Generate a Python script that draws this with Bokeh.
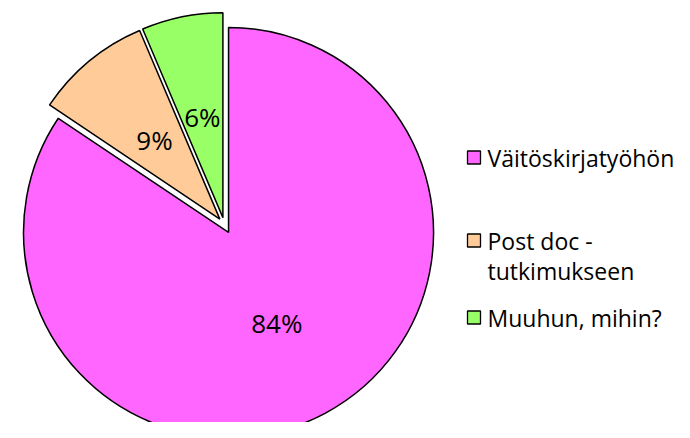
import math
from bokeh.plotting import figure
from bokeh.models import Range1d
from bokeh.core.properties import value
from bokeh.embed import file_html
from bokeh.resources import INLINE

# data
categories = ["Väitöskirjatyöhön", "Post doc -\ntutkimukseen", "Muuhun, mihin?"]
values = [84.4, 9.2, 6.4]
colors = ["#FF66FF", "#FFCC99", "#99FF66"]
explode = [9, 7, 7]

W, H = 674, 422
FONT = "Open Sans"
p = figure(width=W, height=H, output_backend="svg", toolbar_location=None,
           x_range=Range1d(0, W), y_range=Range1d(438 - H, 438),
           min_border=0)
p.axis.visible = False
p.grid.visible = False
p.outline_line_color = None
p.background_fill_color = "white"

cx, cy, r = 223.8, 214.0, 205.0
total = sum(values)
cum = 0.0
xs, ys, sa, ea, lx, ly, labels = [], [], [], [], [], [], []
for v, e in zip(values, explode):
    a_start = math.pi / 2 - 2 * math.pi * (cum + v) / total
    a_end = math.pi / 2 - 2 * math.pi * cum / total
    mid = (a_start + a_end) / 2
    x0 = cx + e * math.cos(mid)
    y0 = cy + e * math.sin(mid)
    xs.append(x0); ys.append(y0); sa.append(a_start); ea.append(a_end)
    lx.append(x0 + 0.5 * r * math.cos(mid))
    ly.append(y0 + 0.5 * r * math.sin(mid))
    labels.append(f"{round(v)}%")
    cum += v

p.wedge(x=xs, y=ys, radius=r, start_angle=sa, end_angle=ea, direction="anticlock",
        fill_color=colors, line_color="black", line_width=1.5)

p.text(x=lx, y=ly, text=labels, text_font=value(FONT), text_font_size="26px",
       text_align="center", text_baseline="middle", text_color="black")

# legend
leg_x = 473.5
leg_y = [438 - 157, 438 - 240, 438 - 317]
p.rect(x=[leg_x] * 3, y=leg_y, width=13, height=13, fill_color=colors,
       line_color="black", line_width=1.3)
p.text(x=[487] * 3, y=leg_y, text=[c.split("\n")[0] for c in categories],
       text_font=value(FONT), text_font_size="23px", text_align="left",
       text_baseline="middle", text_color="black")
p.text(x=[487], y=[leg_y[1] - 30], text=[categories[1].split("\n")[1]],
       text_font=value(FONT), text_font_size="23px", text_align="left",
       text_baseline="middle", text_color="black")

open("out.html", "w").write(file_html(p, INLINE))
